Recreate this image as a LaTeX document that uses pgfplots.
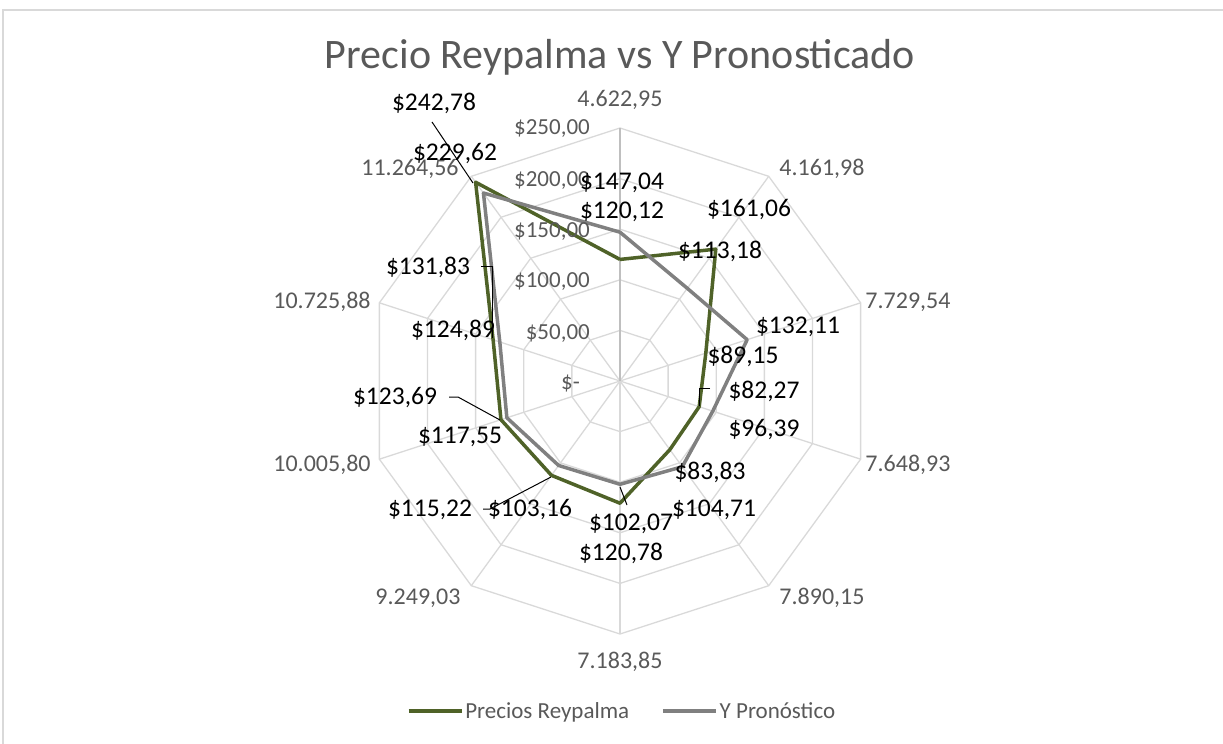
\documentclass[border=0pt]{standalone}
\usepackage{pgfplots}
\pgfplotsset{compat=1.18}
\usepackage{pgfplotstable}
\usepackage{fontspec}
\setmainfont{Carlito}
\definecolor{reyg}{HTML}{4F6228}
\definecolor{prong}{HTML}{808080}
\definecolor{gridc}{HTML}{D9D9D9}
\definecolor{spoke}{HTML}{BFBFBF}
\definecolor{txtg}{HTML}{595959}

% angle (deg)  value
\pgfplotstableread{
a v
90 120.12
54 161.06
18 89.15
-18 82.27
-54 83.83
-90 120.78
-126 115.22
-162 123.69
-198 131.83
-234 242.78
-270 120.12
}\reypalma

\pgfplotstableread{
a v
90 147.04
54 113.18
18 132.11
-18 96.39
-54 104.71
-90 102.07
-126 103.16
-162 117.55
-198 124.89
-234 229.62
-270 147.04
}\pronostico

\pgfplotstableread{
a v
90 1
54 1
18 1
-18 1
-54 1
-90 1
-126 1
-162 1
-198 1
-234 1
-270 1
}\angs

\newcommand{\dlab}{\fontsize{25.5bp}{30bp}\selectfont}
\newcommand{\clab}{\fontsize{24bp}{28bp}\selectfont}
\newcommand{\tlab}{\fontsize{23bp}{27bp}\selectfont}
\newcommand{\dl}[3]{\node[font=\dlab, text=black, inner sep=0pt] at (axis cs:{#1-620},{381-#2}) {#3};}
\newcommand{\cl}[3]{\node[font=\clab, text=txtg, inner sep=0pt] at (axis cs:{#1-620},{381-#2}) {#3};}
\newcommand{\tl}[3]{\node[font=\tlab, text=txtg, inner sep=0pt, anchor=east] at (axis cs:{#1-620},{381-#2}) {#3};}

\begin{document}
\begin{tikzpicture}
\begin{axis}[
  scale only axis, hide axis,
  width=1223bp, height=743bp,
  xmin=-620, xmax=603, ymin=-362, ymax=381,
  clip=false,
  legend columns=2,
  legend style={at={(axis cs:2,-330)}, anchor=center, draw=none, fill=none,
    font=\tlab, text=txtg,
    /tikz/every even column/.append style={column sep=30bp}},
  legend image code/.code={\draw[#1] (0bp,0bp) -- (53bp,0bp);},
]
% frame
\draw[gridc, line width=1.2bp] (axis cs:-617,-380) -- (axis cs:-617,371) -- (axis cs:620,371);
% rings
\pgfplotsinvokeforeach{50,100,150,200,250}{
  \addplot[gridc, line width=1.3bp, forget plot] table[x expr={1.012*#1*cos(\thisrow{a})}, y expr={1.012*#1*sin(\thisrow{a})}] {\angs};
}
% spokes
\pgfplotsinvokeforeach{54,18,-18,-54,-90,-126,-162,-198,-234}{
  \draw[gridc, line width=1.3bp] (axis cs:0,0) -- (axis cs:{253*cos(#1)},{253*sin(#1)});
}
\draw[spoke, line width=2bp] (axis cs:0,0) -- (axis cs:0,253);

\addplot[reyg, line width=3.5bp, line join=round] table[x expr={1.012*\thisrow{v}*cos(\thisrow{a})}, y expr={1.012*\thisrow{v}*sin(\thisrow{a})}] {\reypalma};
\addlegendentry{Precios Reypalma}
\addplot[prong, line width=3.5bp, line join=round] table[x expr={1.012*\thisrow{v}*cos(\thisrow{a})}, y expr={1.012*\thisrow{v}*sin(\thisrow{a})}] {\pronostico};
\addlegendentry{Y Pronóstico}

% title
\node[font=\fontsize{42bp}{48bp}\selectfont, text=txtg] at (axis cs:0,{381-57}) {Precio Reypalma vs Y Pronosticado};

% value axis labels
\tl{590}{129}{\$250,00}
\tl{590}{181}{\$200,00}
\tl{590}{232}{\$150,00}
\tl{590}{282}{\$100,00}
\tl{590}{334}{\$50,00}
\tl{580}{384}{\$-}

% category labels
\cl{620}{100}{4.622,95}
\cl{822}{169}{4.161,98}
\cl{908}{302}{7.729,54}
\cl{908}{465}{7.648,93}
\cl{822}{598}{7.890,15}
\cl{620}{662}{7.183,85}
\cl{418}{598}{9.249,03}
\cl{322}{465}{10.005,80}
\cl{322}{302}{10.725,88}
\cl{410}{169}{11.264,56}

% leader lines
\draw[black, line width=1bp] (axis cs:{432-620},{381-122}) -- (axis cs:{473-620},{381-183});
\draw[black, line width=1bp] (axis cs:{710-620},{381-388}) -- (axis cs:{699-620},{381-388}) -- (axis cs:{699-620},{381-406});
\draw[black, line width=1bp] (axis cs:{620-620},{381-487}) -- (axis cs:{627-620},{381-505});
\draw[black, line width=1bp] (axis cs:{483-620},{381-509}) -- (axis cs:{490-620},{381-509}) -- (axis cs:{551-620},{381-477});
\draw[black, line width=1bp] (axis cs:{449-620},{381-397}) -- (axis cs:{458-620},{381-397}) -- (axis cs:{500-620},{381-420});
\draw[black, line width=1bp] (axis cs:{481-620},{381-267}) -- (axis cs:{492-620},{381-267}) -- (axis cs:{492-620},{381-338});

% data labels
\dl{434}{103}{\$242,78}
\dl{455}{154}{\$229,62}
\dl{622}{183}{\$147,04}
\dl{622}{212}{\$120,12}
\dl{749}{210}{\$161,06}
\dl{720}{251}{\$113,18}
\dl{798}{327}{\$132,11}
\dl{743}{356}{\$89,15}
\dl{764}{391}{\$82,27}
\dl{764}{430}{\$96,39}
\dl{710}{472}{\$83,83}
\dl{714}{510}{\$104,71}
\dl{631}{524}{\$102,07}
\dl{621}{553}{\$120,78}
\dl{530}{510}{\$103,16}
\dl{430}{510}{\$115,22}
\dl{395}{398}{\$123,69}
\dl{460}{437}{\$117,55}
\dl{453}{330}{\$124,89}
\dl{428}{267}{\$131,83}
\end{axis}
\pgfresetboundingbox
\path[use as bounding box] (current axis.south west) rectangle (current axis.north east);
\end{tikzpicture}
\end{document}
